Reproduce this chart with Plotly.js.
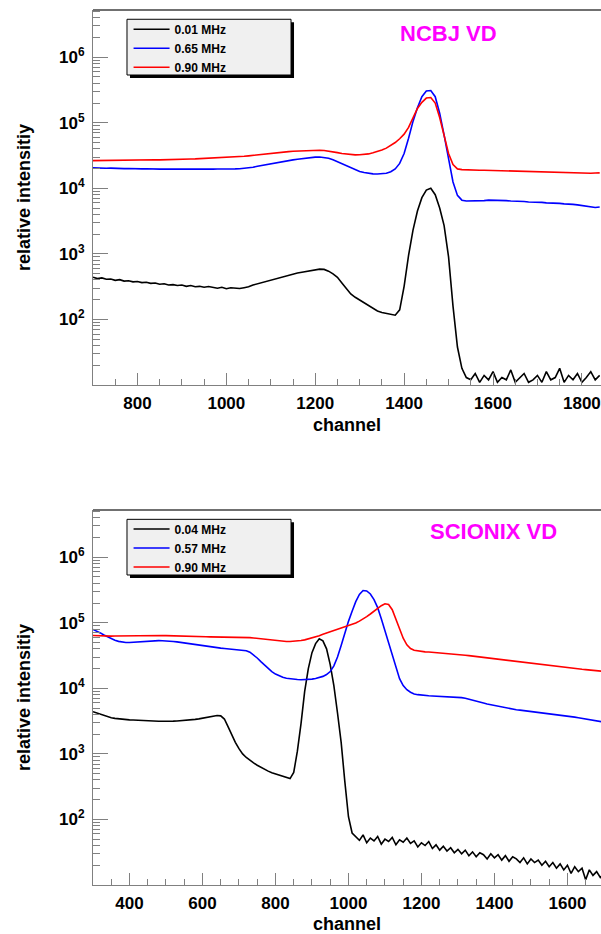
<!DOCTYPE html>
<html>
<head>
<meta charset="utf-8">
<script src="https://cdn.plot.ly/plotly-3.0.1.min.js"></script>
<style>
html,body{margin:0;padding:0;background:#fff;}
#chart{width:601px;height:934px;}
</style>
</head>
<body>
<div id="chart"></div>
<script>
// ---------- NCBJ VD (top panel) ----------
const chTop = [
700,710,720,730,740,750,760,770,780,790,
800,810,820,830,840,850,860,870,880,890,
900,910,920,930,940,950,960,970,980,990,
1000,1010,1020,1030,1040,1050,1060,1070,1080,1090,
1100,1110,1120,1130,1140,1150,1160,1170,1180,1190,
1200,1210,1220,1230,1240,1250,1260,1270,1280,1290,
1300,1310,1320,1330,1340,1350,1360,1370,1380,1390,
1400,1410,1420,1430,1440,1450,1460,1470,1480,1490,
1500,1510,1520,1530,1540,1550,1560,1570,1580,1590,
1600,1610,1620,1630,1640,1650,1660,1670,1680,1690,
1700,1710,1720,1730,1740,1750,1760,1770,1780,1790,
1800,1810,1820,1830,1840];

const ncbj001 = [
440,420,430,410,415,395,405,385,390,375,
380,365,370,355,360,345,350,335,340,330,
335,320,330,315,320,310,318,305,300,310,
295,305,300,296,305,315,335,350,365,380,
395,410,430,450,470,490,510,525,540,560,
575,585,580,545,495,440,360,295,245,218,
198,178,160,145,135,128,124,120,116,140,
320,950,2300,4500,7200,9400,10000,8000,5000,2700,
900,160,38,18,13,12,15,11,14,12,
16,11,13,12,17,11,13,15,11,12,
14,11,16,12,13,18,11,14,12,15,
11,13,16,12,14];

const ncbj065 = [
20500,20300,20400,20200,20300,20100,20200,20000,20100,19900,
20000,19800,19900,19700,19800,19600,19700,19600,19700,19600,
19700,19600,19700,19600,19700,19600,19700,19600,19700,19600,
19700,19700,19800,19900,20100,20500,21000,21700,22400,23100,
23800,24500,25200,25900,26600,27200,27800,28400,29000,29500,
29900,30100,29800,28800,27300,25500,23600,21800,20200,19000,
18100,17400,16900,16600,16500,16600,17000,17900,19800,24000,
34000,58000,105000,170000,250000,305000,310000,250000,140000,65000,
27000,12500,7800,6600,6400,6400,6500,6500,6500,6600,
6600,6600,6500,6500,6400,6400,6300,6300,6200,6200,
6100,6100,6000,6000,5900,5900,5800,5800,5700,5600,
5500,5300,5200,5100,5200];

const ncbj090 = [
26500,26600,26500,26700,26600,26800,26700,26900,26800,27000,
27000,27100,27000,27200,27300,27200,27400,27500,27600,27700,
27800,27900,28000,28100,28300,28400,28600,28800,28900,29100,
29300,29600,29900,30300,30800,31300,31900,32500,33100,33700,
34300,34900,35400,35900,36300,36700,37000,37400,37700,37900,
38100,38100,37700,37000,36000,35000,34000,33200,32600,32400,
32500,32800,33500,34800,36300,38300,41000,45000,50000,57000,
67000,85000,120000,165000,205000,238000,243000,200000,120000,65000,
34000,23000,19800,19300,19100,19000,19000,18900,18900,18800,
18800,18700,18700,18600,18600,18500,18500,18400,18300,18200,
18100,18000,17900,17800,17700,17600,17500,17500,17400,17300,
17200,17100,17000,17100,17200];

// ---------- SCIONIX VD (bottom panel) ----------
const chBot = [
300,310,320,330,340,350,360,370,380,390,
400,410,420,430,440,450,460,470,480,490,
500,510,520,530,540,550,560,570,580,590,
600,610,620,630,640,650,660,670,680,690,
700,710,720,730,740,750,760,770,780,790,
800,810,820,830,840,850,860,870,880,890,
900,910,920,930,940,950,960,970,980,990,
1000,1010,1020,1030,1040,1050,1060,1070,1080,1090,
1100,1110,1120,1130,1140,1150,1160,1170,1180,1190,
1200,1210,1220,1230,1240,1250,1260,1270,1280,1290,
1300,1310,1320,1330,1340,1350,1360,1370,1380,1390,
1400,1410,1420,1430,1440,1450,1460,1470,1480,1490,
1500,1510,1520,1530,1540,1550,1560,1570,1580,1590,
1600,1610,1620,1630,1640,1650,1660,1670,1680,1690,
1700];

const scio004 = [
4400,4200,4000,3800,3650,3550,3480,3420,3380,3330,
3300,3280,3250,3230,3200,3180,3170,3150,3140,3150,
3130,3150,3160,3180,3200,3230,3270,3310,3360,3420,
3500,3580,3680,3780,3850,3800,3400,2600,1950,1500,
1200,1000,880,790,730,670,620,580,545,515,
495,475,460,445,420,520,1100,2900,9000,20000,
35000,48000,57000,53000,40000,23000,11000,4200,1500,380,
110,62,55,48,58,44,52,47,55,42,
50,46,53,41,49,45,52,43,47,38,
44,40,46,36,41,34,39,33,37,31,
35,30,34,28,32,27,31,29,25,30,
26,29,24,28,23,27,25,22,26,21,
25,22,24,20,23,19,22,18,21,17,
20,15,19,16,18,12,17,14,16,13,
15];

const scio057 = [
79000,75000,70000,65000,60500,57000,54000,52000,50500,50000,
50000,50500,51000,51500,52000,52500,53000,53200,53300,53200,
53000,52500,51800,51000,50000,49000,48000,47000,46200,45500,
44800,44000,43200,42400,41700,41000,40500,40000,39600,39200,
38800,38300,37500,35500,32500,29000,25500,22500,20000,18000,
16500,15500,14700,14200,13900,13700,13600,13500,13500,13600,
13800,14100,14500,15200,16200,18000,22000,30000,45000,70000,
105000,150000,210000,270000,310000,305000,275000,225000,170000,115000,
75000,48000,31000,20000,14000,11000,9500,8700,8200,8000,
7850,7750,7700,7650,7600,7600,7550,7500,7450,7400,
7300,7200,7050,6850,6650,6400,6150,5950,5750,5600,
5450,5300,5150,5000,4900,4800,4720,4650,4580,4500,
4450,4400,4330,4260,4200,4130,4060,3990,3920,3850,
3780,3700,3630,3560,3490,3420,3350,3280,3200,3120,
3050];

const scio090 = [
64000,63500,63000,63000,62500,62500,62800,63000,63200,63000,
63300,63500,63400,63600,63500,63700,63600,63800,63700,63800,
63600,63500,63300,63000,62800,62500,62300,62000,61800,61500,
61300,61000,60800,60700,60600,60600,60700,60800,60800,60700,
60500,60200,59800,59300,58600,57800,57000,56000,55000,54000,
53200,52500,52000,51800,51800,52000,52600,53500,54800,56500,
58500,60800,63500,66500,69500,72500,75500,78500,81500,85000,
89000,93500,99000,106000,114000,124000,136000,150000,166000,182000,
195000,190000,158000,115000,80000,58000,46000,40500,38000,37000,
36500,36000,35700,35400,35100,34800,34500,34200,33800,33400,
33000,32500,32000,31500,31000,30500,30000,29600,29200,28800,
28400,28000,27500,27100,26700,26300,25900,25500,25100,24700,
24300,23900,23500,23100,22700,22300,21900,21500,21200,20900,
20600,20300,20000,19800,19500,19300,19000,18800,18500,18300,
18100];

// ---------- labels ----------
const topLegendNames = ['0.01 MHz', '0.65 MHz', '0.90 MHz'];
const botLegendNames = ['0.04 MHz', '0.57 MHz', '0.90 MHz'];
const seriesColors = ['#000000', '#0000ff', '#ff0000'];
const panelLabels = ['NCBJ VD', 'SCIONIX VD'];
const xTitle = 'channel';
const yTitle = 'relative intensitiy';
const yTickVals = [100, 1000, 10000, 100000, 1000000];
const yTickText = ['10<sup>2</sup>', '10<sup>3</sup>', '10<sup>4</sup>', '10<sup>5</sup>', '10<sup>6</sup>'];

const yMinor = [];
[10, 100, 1000, 10000, 100000, 1000000].forEach(function (d) {
  for (let k = 2; k <= 9; k++) yMinor.push(k * d);
});

const FONT = 'Liberation Sans, Arial, Helvetica, sans-serif';
const tickFont = {family: FONT, size: 17, color: '#000', weight: 'bold'};
const titleFont = {family: FONT, size: 18, color: '#000', weight: 'bold'};
const AXC = '#808080';

function mk(x, y, name, color, legend, xa, ya) {
  return {x: x, y: y, name: name, type: 'scatter', mode: 'lines',
    line: {color: color, width: 1.6}, legend: legend, xaxis: xa, yaxis: ya,
    hoverinfo: 'skip'};
}

const traces = [
  mk(chTop, ncbj001, topLegendNames[0], seriesColors[0], 'legend', 'x', 'y'),
  mk(chTop, ncbj065, topLegendNames[1], seriesColors[1], 'legend', 'x', 'y'),
  mk(chTop, ncbj090, topLegendNames[2], seriesColors[2], 'legend', 'x', 'y'),
  mk(chBot, scio004, botLegendNames[0], seriesColors[0], 'legend2', 'x2', 'y2'),
  mk(chBot, scio057, botLegendNames[1], seriesColors[1], 'legend2', 'x2', 'y2'),
  mk(chBot, scio090, botLegendNames[2], seriesColors[2], 'legend2', 'x2', 'y2')
];

function xax(range, anchor) {
  return {range: range, anchor: anchor, domain: [0, 1],
    showline: true, linecolor: AXC, linewidth: 1, mirror: false,
    ticks: 'inside', ticklen: 12, tickcolor: AXC, tickwidth: 1,
    tick0: 0, dtick: 200, tickfont: tickFont, ticklabelstandoff: 3,
    minor: {dtick: 50, ticks: 'inside', ticklen: 6, tickcolor: AXC, showgrid: false},
    showgrid: false, zeroline: false, automargin: false,
    title: {text: xTitle, font: titleFont, standoff: 5}};
}
function yax(domain, anchor) {
  return {type: 'log', range: [1, 6.72], domain: domain, anchor: anchor,
    showline: true, linecolor: AXC, linewidth: 1, mirror: false,
    ticks: 'inside', ticklen: 15, tickcolor: AXC, tickwidth: 1,
    tickmode: 'array', tickvals: yTickVals, ticktext: yTickText,
    tickfont: tickFont, ticklabelstandoff: 4,
    minor: {tickmode: 'array', tickvals: yMinor, ticks: 'inside', ticklen: 7, tickcolor: AXC, showgrid: false},
    showgrid: false, zeroline: false, automargin: false,
    title: {text: yTitle, font: titleFont, standoff: 23}};
}

const legFont = {family: FONT, size: 12, color: '#000', weight: 'bold'};
function leg(y) {
  return {x: 0.070, y: y, xref: 'paper', yref: 'paper', xanchor: 'left', yanchor: 'top',
    bgcolor: 'rgba(0,0,0,0)', borderwidth: 0, font: legFont, itemwidth: 36,
    tracegroupgap: 0, traceorder: 'normal'};
}

function boxShapes(x0, x1, y0, y1) {
  const dx = 3 / 508, dy = 3 / 875;
  return [
    {type: 'rect', xref: 'paper', yref: 'paper', x0: x0 + dx, x1: x1 + dx, y0: y0 - dy, y1: y1 - dy,
      fillcolor: '#000', line: {width: 0}, layer: 'above'},
    {type: 'rect', xref: 'paper', yref: 'paper', x0: x0, x1: x1, y0: y0, y1: y1,
      fillcolor: '#f0f0f0', line: {color: '#000', width: 1}, layer: 'above'}
  ];
}
function topFrame(yref) {
  return {type: 'line', xref: 'paper', yref: yref, x0: 0, x1: 1, y0: 1, y1: 1,
    line: {color: '#404040', width: 1.6}, layer: 'above'};
}

const layout = {
  width: 601, height: 934,
  margin: {l: 93, r: 0, t: 10, b: 49, pad: 0},
  paper_bgcolor: '#fff', plot_bgcolor: '#fff',
  showlegend: true,
  xaxis: xax([700, 1843], 'y'),
  yaxis: yax([0.5714, 1], 'x'),
  xaxis2: xax([300, 1692], 'y2'),
  yaxis2: yax([0, 0.4286], 'x2'),
  legend: leg(0.9945),
  legend2: leg(0.4235),
  shapes: [].concat(boxShapes(0.0669, 0.3898, 0.9257, 0.9894),
                    boxShapes(0.0669, 0.3898, 0.3543, 0.4179),
                    [topFrame('y domain'), topFrame('y2 domain')]),
  annotations: [
    {text: panelLabels[0], xref: 'paper', yref: 'paper', x: 0.699, y: 0.9737,
      xanchor: 'center', yanchor: 'middle', showarrow: false,
      font: {family: FONT, size: 22, color: '#ff00ff', weight: 'bold'}},
    {text: panelLabels[1], xref: 'paper', yref: 'paper', x: 0.789, y: 0.4038,
      xanchor: 'center', yanchor: 'middle', showarrow: false,
      font: {family: FONT, size: 22, color: '#ff00ff', weight: 'bold'}}
  ]
};

Plotly.newPlot('chart', traces, layout, {staticPlot: true, displayModeBar: false});
</script>
</body>
</html>
